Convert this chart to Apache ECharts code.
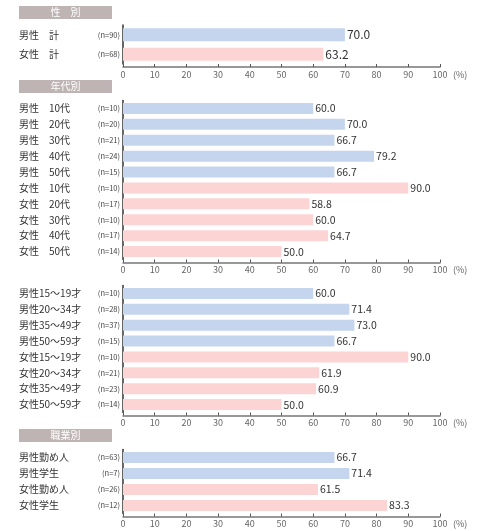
<!DOCTYPE html>
<html>
<head>
<meta charset="utf-8">
<script src="https://cdn.jsdelivr.net/npm/echarts@6/dist/echarts.min.js"></script>
<style>
  html, body { margin: 0; padding: 0; background: #fff; }
  #chart { width: 481px; height: 531px; }
</style>
</head>
<body>
<div id="chart"></div>
<script>
// 性別
var sexCats = ['男性　計', '女性　計'];
var sexN = ['(n=90)', '(n=68)'];
var sexVals = [70.0, 63.2];
// 年代別
var ageCats = ['男性　10代', '男性　20代', '男性　30代', '男性　40代', '男性　50代',
               '女性　10代', '女性　20代', '女性　30代', '女性　40代', '女性　50代'];
var ageN = ['(n=10)', '(n=20)', '(n=21)', '(n=24)', '(n=15)',
            '(n=10)', '(n=17)', '(n=10)', '(n=17)', '(n=14)'];
var ageVals = [60.0, 70.0, 66.7, 79.2, 66.7, 90.0, 58.8, 60.0, 64.7, 50.0];
// 年齢層
var rangeCats = ['男性15～19才', '男性20～34才', '男性35～49才', '男性50～59才',
                 '女性15～19才', '女性20～34才', '女性35～49才', '女性50～59才'];
var rangeN = ['(n=10)', '(n=28)', '(n=37)', '(n=15)', '(n=10)', '(n=21)', '(n=23)', '(n=14)'];
var rangeVals = [60.0, 71.4, 73.0, 66.7, 90.0, 61.9, 60.9, 50.0];
// 職業別
var jobCats = ['男性勤め人', '男性学生', '女性勤め人', '女性学生'];
var jobN = ['(n=63)', '(n=7)', '(n=26)', '(n=12)'];
var jobVals = [66.7, 71.4, 61.5, 83.3];

var xTicks = [0, 10, 20, 30, 40, 50, 60, 70, 80, 90, 100];

var BLUE = '#c5d5ee';
var PINK = '#fcd4d4';
var HEAD = '#bfb4b4';
var FONT = '"Noto Sans CJK JP", "Noto Sans", sans-serif';

var chart = echarts.init(document.getElementById('chart'));

// panel layout: top of grid, height, bar width, label size
var panels = [
  {cats: sexCats, n: sexN, vals: sexVals, top: 25, height: 39, bar: 13, fs: 12},
  {cats: ageCats, n: ageN, vals: ageVals, top: 100.5, height: 159, bar: 11, fs: 10.5},
  {cats: rangeCats, n: rangeN, vals: rangeVals, top: 285.5, height: 127, bar: 11, fs: 10.5},
  {cats: jobCats, n: jobN, vals: jobVals, top: 449.5, height: 64, bar: 11, fs: 10.5}
];

var grids = [], xAxes = [], yAxes = [], series = [];
panels.forEach(function(p, i) {
  grids.push({left: 123, right: 41, top: p.top, height: p.height, containLabel: false});
  xAxes.push({
    type: 'value', gridIndex: i, min: 0, max: 100, interval: 10,
    offset: 3,
    name: '(%)', nameLocation: 'end', nameGap: 13,
    nameTextStyle: {color: '#666', fontSize: 9, fontFamily: FONT, verticalAlign: 'top', padding: [3, 0, 0, 0]},
    axisLine: {show: true, lineStyle: {color: '#777', width: 1.5}},
    axisTick: {show: true, inside: true, length: 3, lineStyle: {color: '#555'}},
    axisLabel: {color: '#666', fontSize: 9, fontFamily: FONT, margin: 3,
      formatter: function(v) { return xTicks.indexOf(v) >= 0 ? String(v) : ''; }},
    splitLine: {show: false}
  });
  // category names
  yAxes.push({
    type: 'category', gridIndex: i, data: p.cats, inverse: true,
    axisLine: {show: true, lineStyle: {color: '#333', width: 1.5}},
    axisTick: {show: false},
    axisLabel: {align: 'left', margin: 104, color: '#333', fontSize: 10, fontFamily: FONT}
  });
  // n labels
  yAxes.push({
    type: 'category', gridIndex: i, data: p.n, inverse: true, position: 'left',
    axisLine: {show: false}, axisTick: {show: false},
    axisLabel: {margin: 3, color: '#444', fontSize: 7.5, fontFamily: FONT}
  });
  series.push({
    type: 'bar', xAxisIndex: i, yAxisIndex: i * 2,
    data: p.vals, barWidth: p.bar,
    itemStyle: {color: function(params) {
      return p.cats[params.dataIndex].indexOf('男性') === 0 ? BLUE : PINK;
    }},
    label: {show: true, position: 'right', distance: 2, color: '#333',
      fontSize: p.fs, fontFamily: FONT,
      formatter: function(params) { return params.value.toFixed(1); }},
    silent: true, animation: false
  });
});

function header(y, text) {
  return {
    type: 'group',
    children: [
      {type: 'rect', shape: {x: 19, y: y, width: 93, height: 13}, style: {fill: HEAD}},
      {type: 'text', x: 65.5, y: y + 6.5,
        style: {text: text, fill: '#fff', fontSize: 10, fontFamily: FONT, align: 'center', verticalAlign: 'middle'}}
    ]
  };
}

chart.setOption({
  animation: false,
  textStyle: {fontFamily: FONT},
  grid: grids,
  xAxis: xAxes,
  yAxis: yAxes,
  series: series,
  graphic: [header(6, '性　別'), header(80, '年代別'), header(429, '職業別')]
});
</script>
</body>
</html>
